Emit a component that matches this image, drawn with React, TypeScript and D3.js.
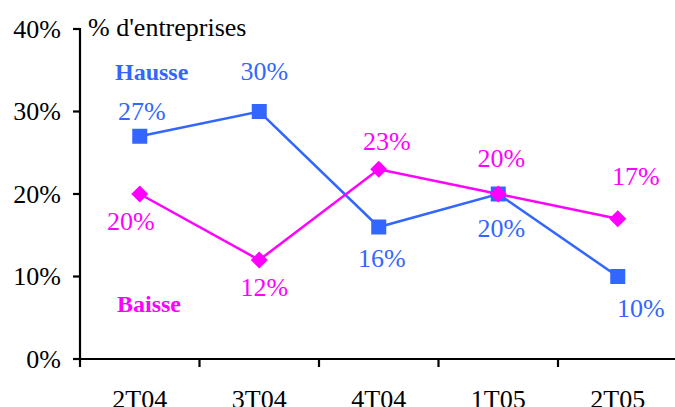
import React from "react";
import * as d3 from "d3";

const categories = ["2T04", "3T04", "4T04", "1T05", "2T05"];
const hausse = [27, 30, 16, 20, 10];
const baisse = [20, 12, 23, 20, 17];
const yTicks = [0, 10, 20, 30, 40];

// label offsets (style/layout only)
const hausseLabelOffsets: [number, number][] = [[2, -16], [5, -31.5], [3, 40], [3, 43], [23, 40.5]];
const baisseLabelOffsets: [number, number][] = [[-9, 36], [5, 36], [8, -19], [3, -27], [18, -34]];

const W = 675, H = 407;
const BLUE = "#3366FF";
const MAG = "#FF00FF";
const FONT = '"Liberation Serif", "DejaVu Serif", serif';

export default function App() {
  const x = d3.scaleBand<string>().domain(categories).range([80, 677.5]).paddingInner(0).paddingOuter(0);
  const y = d3.scaleLinear().domain([0, 40]).range([359, 29]);
  const cx = (c: string) => (x(c) as number) + x.bandwidth() / 2;

  const line = d3.line<number>().x((_, i) => cx(categories[i])).y((v) => y(v));

  const ticksX = categories.map((c) => x(c) as number).concat([(x(categories[4]) as number) + x.bandwidth()]);
  const ts = { fontFamily: FONT };

  return (
    <svg width={W} height={H} style={{ position: "absolute", left: 0, top: 0, background: "#fff", fontFamily: FONT }}>
      <rect width={W} height={H} fill="#fff" />
      {/* axes */}
      <line x1={80} x2={80} y1={28} y2={360} stroke="#000" strokeWidth={2.2} />
      <line x1={79} x2={W + 5} y1={359} y2={359} stroke="#000" strokeWidth={2.2} />
      {yTicks.map((t) => (
        <g key={t}>
          <line x1={73} x2={80} y1={y(t)} y2={y(t)} stroke="#000" strokeWidth={2.2} />
          <text style={ts} x={61} y={y(t) + 8.5} textAnchor="end" fontSize={26} fill="#000">{t}%</text>
        </g>
      ))}
      {ticksX.map((tx, i) => (
        <line key={i} x1={tx} x2={tx} y1={359} y2={367} stroke="#000" strokeWidth={2.2} />
      ))}
      {categories.map((c) => (
        <text style={ts} key={c} x={cx(c)} y={408} textAnchor="middle" fontSize={26} fill="#000">{c}</text>
      ))}
      <text style={ts} x={88} y={36} fontSize={26} fill="#000">% d'entreprises</text>

      {/* series lines */}
      <path d={line(hausse) as string} fill="none" stroke={BLUE} strokeWidth={2.5} />
      <path d={line(baisse) as string} fill="none" stroke={MAG} strokeWidth={2.5} />

      {/* markers */}
      {hausse.map((v, i) => (
        <rect key={"h" + i} x={cx(categories[i]) - 7.5} y={y(v) - 7.5} width={15} height={15} fill={BLUE} />
      ))}
      {baisse.map((v, i) => {
        const px = cx(categories[i]), py = y(v), r = 8.5;
        return <path key={"b" + i} d={`M${px},${py - r}L${px + r},${py}L${px},${py + r}L${px - r},${py}Z`} fill={MAG} />;
      })}

      {/* value labels */}
      {hausse.map((v, i) => (
        <text style={ts} key={"hl" + i} x={cx(categories[i]) + hausseLabelOffsets[i][0]} y={y(v) + hausseLabelOffsets[i][1]} textAnchor="middle" fontSize={26} fill={BLUE}>{v}%</text>
      ))}
      {baisse.map((v, i) => (
        <text style={ts} key={"bl" + i} x={cx(categories[i]) + baisseLabelOffsets[i][0]} y={y(v) + baisseLabelOffsets[i][1]} textAnchor="middle" fontSize={26} fill={MAG}>{v}%</text>
      ))}

      {/* series names */}
      <text style={ts} x={115} y={80} fontSize={24} fontWeight="bold" fill={BLUE}>Hausse</text>
      <text style={ts} x={117} y={312} fontSize={24} fontWeight="bold" fill={MAG}>Baisse</text>
    </svg>
  );
}
